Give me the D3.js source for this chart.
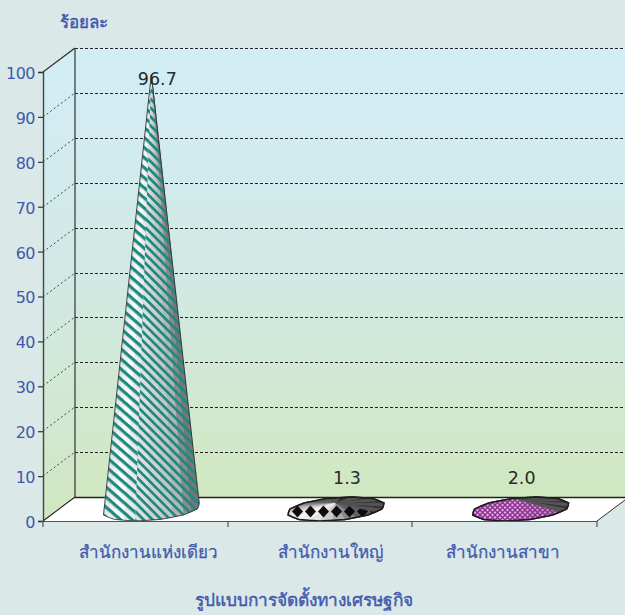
<!DOCTYPE html>
<html><head><meta charset="utf-8">
<script src="https://cdn.jsdelivr.net/npm/d3@7"></script>
<style>html,body{margin:0;padding:0;background:#dae8e8}svg{display:block}
text{font-family:"Noto Sans","DejaVu Sans",sans-serif}</style></head><body>
<script>
const categories = ["สำนักงานแห่งเดียว","สำนักงานใหญ่","สำนักงานสาขา"];
const values = [96.7,1.3,2.0];
const valueLabels = ["96.7","1.3","2.0"];
const yTicks = [0,10,20,30,40,50,60,70,80,90,100];
const yTitle = "ร้อยละ";
const xTitle = "รูปแบบการจัดตั้งทางเศรษฐกิจ";

const W=625,H=615, DX=32, DY=24, blue="#4159ad";
const svg=d3.select("body").append("svg").attr("width",W).attr("height",H);
const defs=svg.append("defs");
const x=d3.scaleBand().domain(categories).range([43,597]);
const y=d3.scaleLinear().domain([0,100]).range([521,72]);

const wall=defs.append("linearGradient").attr("id","wall").attr("x1",0).attr("y1",0).attr("x2",0).attr("y2",1);
[[0,"#d2edf6"],[0.5,"#d1e9e4"],[1,"#d0e8c0"]].forEach(s=>wall.append("stop").attr("offset",s[0]).attr("stop-color",s[1]));

function stripes(id,w,t,ang,col){
  const p=defs.append("pattern").attr("id",id).attr("patternUnits","userSpaceOnUse")
    .attr("width",w).attr("height",w).attr("patternTransform",`rotate(${ang})`);
  p.append("rect").attr("width",w).attr("height",t).attr("fill",col);
}
stripes("stL",7.6,3.2,41,"#1b8a80");
stripes("stR",6.3,2.7,45,"#1b8a80");
(function(){
  const p=defs.append("pattern").attr("id","dia").attr("patternUnits","userSpaceOnUse")
    .attr("width",13).attr("height",20).attr("x",291).attr("y",502);
  p.append("path").attr("d","M6.5,3.5L12,9.5L6.5,15.5L1,9.5Z").attr("fill","#0c0c0c");
  const q=defs.append("pattern").attr("id","hatch").attr("patternUnits","userSpaceOnUse")
    .attr("width",5).attr("height",5);
  q.append("path").attr("d","M0,0L5,5M5,0L0,5").attr("stroke","#86308a").attr("stroke-width",1.3);
})();

// walls and floor
const g0=y(0), g100=y(100);
svg.append("path").attr("d",`M${43+DX},${g100-DY}H${597+DX}V${g0-DY}H${43+DX}Z`).attr("fill","url(#wall)");
svg.append("path").attr("d",`M43,${g100}L${43+DX},${g100-DY}V${g0-DY}L43,${g0}Z`).attr("fill","url(#wall)");
svg.append("path").attr("d",`M43,${g0}H597L${597+DX},${g0-DY}H${43+DX}Z`).attr("fill","#fff");

// grid
yTicks.forEach(t=>{
  const yy=Math.round(y(t));
  if(t>0){
    svg.append("line").attr("x1",43+DX).attr("x2",W).attr("y1",yy-DY+.5).attr("y2",yy-DY+.5)
      .attr("stroke","#222").attr("stroke-width",1).attr("stroke-dasharray","3 2");
    svg.append("line").attr("x1",43).attr("x2",43+DX).attr("y1",yy).attr("y2",yy-DY)
      .attr("stroke","#333").attr("stroke-width",.9).attr("stroke-dasharray","2 2.5");
  }
});
const ln=(a,b,c,d,col,w)=>svg.append("line").attr("x1",a).attr("y1",b).attr("x2",c).attr("y2",d).attr("stroke",col).attr("stroke-width",w);
ln(43+DX,g0-DY,43+DX,g100-DY,"#333",1.2);
ln(43+DX,g0-DY+.5,W,g0-DY+.5,"#222",1.4);
ln(43,g0,43+DX,g0-DY,"#222",1.1);
ln(43,g100,43+DX,g100-DY,"#333",1.1);
ln(597,g0,597+DX,g0-DY,"#333",1);

// cones
const Rx=46, N=24;
const line=d3.line();
values.forEach((v,i)=>{
  const c=categories[i], cx=x(c)+x.bandwidth()/2;
  const proj=(ax,z,val)=>[ax+DX*z, y(val)-DY*z];
  const pt=k=>{const t=k/N*2*Math.PI, r=1-.025*(k%2);
    return proj(cx+Rx*r*Math.cos(t),.5+.5*r*Math.sin(t),0);};
  const apex=proj(cx,.5,v);
  const g=svg.append("g");
  const poly=d3.range(N).map(pt);
  if(i===0){
    const hull=d3.polygonHull([apex,...poly]).filter(p=>p!==apex).sort((a,b)=>a[0]-b[0]);
    const ramp=d3.scaleLinear().domain([0,.05,.3,.55,.88,1]).range([150,225,252,222,190,115]).clamp(true);
    g.append("path").attr("d",line([apex,...hull])+"Z").attr("fill","#bbb");
    const order=d3.range(N).sort((a,b)=>Math.sin((b+.5)/N*2*Math.PI)-Math.sin((a+.5)/N*2*Math.PI));
    order.forEach(k=>{
      const t=(k+.5)/N*2*Math.PI, l=ramp((Math.cos(t)+1)/2);
      const col=d3.rgb(l,l,l).toString();
      g.append("path").attr("d",line([apex,pt(k),pt((k+1)%N)])+"Z").attr("fill",col).attr("stroke",col).attr("stroke-width",.5);
    });
    const midPt=pt(N*3/4), mid=midPt[0];
    const L=[apex,...hull.filter(p=>p[0]<=mid)], R=[apex,...hull.filter(p=>p[0]>=mid)];
    g.append("path").attr("d",line(L)+"Z").attr("fill","url(#stL)");
    g.append("path").attr("d",line(R)+"Z").attr("fill","url(#stR)");
    g.append("path").attr("d",line([apex,...hull])+"Z")
      .attr("fill","none").attr("stroke","#2a2a2a").attr("stroke-width",.8);
  } else {
    // upper-right facets are in shadow; the rest carry the pattern
    const tint=i===1?(l=>d3.rgb(l,l,l)):(l=>d3.rgb(l*.86+24,l*.66+8,l*.86+24));
    const isDark=k=>Math.cos((k+.5)/N*2*Math.PI-Math.PI*.28)>.45;
    g.append("path").attr("d",line(poly)+"Z").attr("fill","#888").attr("stroke","#222").attr("stroke-width",1.5);
    d3.range(N).filter(k=>!isDark(k)).forEach(k=>{
      const t=(k+.5)/N*2*Math.PI, u=Math.cos(t-Math.PI*1.3);
      const l=i===1?95+150*Math.max(0,u):205+40*Math.max(0,u);
      const col=tint(l).toString();
      g.append("path").attr("d",line([apex,pt(k),pt((k+1)%N)])+"Z").attr("fill",col).attr("stroke",col).attr("stroke-width",.5);
    });
    g.append("path").attr("d",line(poly)+"Z").attr("fill",`url(#${i===1?"dia":"hatch"})`);
    d3.range(N).filter(isDark).forEach(k=>{
      const l=50+(k%2)*34;
      g.append("path").attr("d",line([apex,pt(k),pt((k+1)%N)])+"Z").attr("fill",d3.rgb(l,l,l).toString()).attr("stroke","#555").attr("stroke-width",.5);
    });
    g.append("path").attr("d",line(poly)+"Z").attr("fill","none").attr("stroke","#1c1c1c").attr("stroke-width",1.5);
  }
});

// value labels
const labelDX=[22,27,17], labelY=[85,484,484];
svg.selectAll(".vl").data(values).join("text").attr("class","vl")
  .attr("x",(d,i)=>x(categories[i])+x.bandwidth()/2+labelDX[i])
  .attr("y",(d,i)=>labelY[i]).attr("text-anchor","middle")
  .attr("font-size",17.5).attr("fill","#2a2a2a").style("font-family","'DejaVu Sans',sans-serif")
  .text((d,i)=>valueLabels[i]);

// axes
const yAxis=d3.axisLeft(y).tickValues(yTicks).tickSize(5).tickPadding(3);
const ya=svg.append("g").attr("transform","translate(43,0)").call(yAxis);
ya.select(".domain").attr("stroke","#444").attr("stroke-width",1.4);
ya.selectAll(".tick line").attr("stroke","#333").attr("stroke-width",1.2);
ya.selectAll("text").attr("fill",blue).attr("font-size",16).attr("dy","0.4em").style("font-family","'DejaVu Sans',sans-serif").attr("letter-spacing","-0.5");
const xAxis=d3.axisBottom(x).tickSize(0).tickPadding(25);
const xa=svg.append("g").attr("transform",`translate(0,${g0})`).call(xAxis);
xa.select(".domain").attr("stroke","#555").attr("stroke-width",1.2);
const labelShift=[13,10,-2];
xa.selectAll("text").attr("fill",blue).attr("font-size",17).attr("dx",(d,i)=>labelShift[i]).attr("stroke",blue).attr("stroke-width",.25);
[0,1,2,3].forEach(i=>{const xx=Math.round(43+i*x.bandwidth());ln(xx,g0,xx,g0+6,"#555",1.2);});

[[84,28,yTitle,17],[304,606,xTitle,17.3]].forEach(a=>svg.append("text").attr("x",a[0]).attr("y",a[1]).attr("text-anchor","middle")
  .attr("fill",blue).attr("stroke",blue).attr("stroke-width",.45).attr("font-size",a[3]).text(a[2]));
</script></body></html>
